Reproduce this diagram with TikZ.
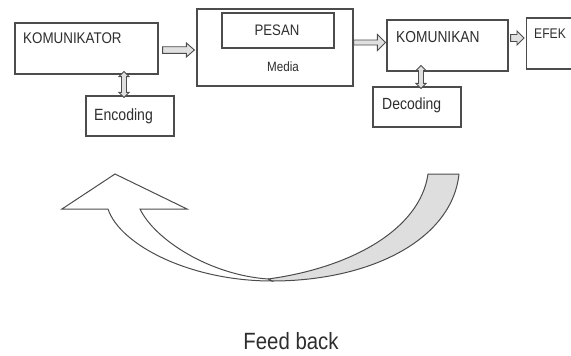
\documentclass[tikz,border=0pt]{standalone}
\usepackage{fontspec}
\setmainfont{Liberation Sans}
\usetikzlibrary{calc}
\tikzset{
  box/.style={draw=black!70, line width=1.2pt, fill=white, inner sep=0pt, minimum width=#1},
  lbl/.style={inner sep=0pt, text=black!82},
  barrow/.style={draw=black!70, line width=0.9pt, fill=black!12, line join=miter},
}
\newcommand\tall[1]{\scalebox{0.97}[1.12]{#1}}
\newcommand\harr[6][]{%
  \draw[barrow,#1] let \p1=(#2), \p2=(#3) in
  (\x1,\y1+#4) -- (\x2-#6,\y1+#4) -- (\x2-#6,\y1+#5) -- (\x2,\y1) -- (\x2-#6,\y1-#5)
  -- (\x2-#6,\y1-#4) -- (\x1,\y1-#4) -- cycle;}
\newcommand\varr[6][]{%
  \draw[barrow,#1] let \p1=(#2), \p2=(#3) in
  (\x1,\y1) -- (\x1+#5,\y1-#6) -- (\x1+#4,\y1-#6) -- (\x1+#4,\y2+#6) -- (\x1+#5,\y2+#6)
  -- (\x1,\y2) -- (\x1-#5,\y2+#6) -- (\x1-#4,\y2+#6) -- (\x1-#4,\y1-#6) -- (\x1-#5,\y1-#6) -- cycle;}
\begin{document}
\begin{tikzpicture}[x=1pt,y=-1pt]
\useasboundingbox (0,0) rectangle (571,356);
\clip (0,0) rectangle (571,356);
% boxes
\node[box=143pt, minimum height=51pt] (kom) at (86.5,48.5) {};
\node[box=88pt, minimum height=40pt] (enc) at (130,116) {};
\node[box=156pt, minimum height=77pt] (med) at (275,47.5) {};
\node[box=112pt, minimum height=35pt] (pes) at (278,30.5) {};
\node[box=121pt, minimum height=51pt] (kmn) at (447.5,45.5) {};
\node[box=88pt, minimum height=40pt] (dec) at (417,107) {};
\node[box=70pt, minimum height=51pt, anchor=west] (efk) at (526,43.5) {};
% texts
\node[lbl, anchor=base west, font=\fontsize{13.8}{16}\selectfont] (t1) at (23,43.5) {\tall{KOMUNIKATOR}};
\node[lbl, anchor=base west, font=\fontsize{14.5}{16}\selectfont] (t2) at (94,120) {\tall{Encoding}};
\node[lbl, anchor=base, font=\fontsize{13.6}{16}\selectfont] (t3) at (277,35) {\tall{PESAN}};
\node[lbl, anchor=base, font=\fontsize{12}{14}\selectfont] (t4) at (283,71) {\tall{Media}};
\node[lbl, anchor=base west, font=\fontsize{14.2}{16}\selectfont] (t5) at (396,42.5) {\tall{KOMUNIKAN}};
\node[lbl, anchor=base west, font=\fontsize{14.4}{16}\selectfont] (t6) at (382,109) {\tall{Decoding}};
\node[lbl, anchor=base west, font=\fontsize{12.5}{14}\selectfont] (t7) at (534,38.5) {\tall{EFEK}};
\node[lbl, anchor=base, font=\fontsize{21}{24}\selectfont] (t8) at (291,349) {\tall{Feed back}};
% arrow end points
\coordinate (a1s) at ([xshift=4pt,yshift=-1.5pt]kom.east);
\coordinate (a1e) at ([xshift=-2pt]med.west);
\coordinate (a2s) at ([yshift=5pt]med.east);
\coordinate (a2e) at ([xshift=-1pt]kmn.west);
\coordinate (a3s) at ([xshift=2pt,yshift=7.5pt]kmn.east);
\coordinate (a3e) at ([xshift=-2pt]efk.west);
\coordinate (v1t) at ([xshift=-6pt,yshift=3pt]enc.north |- kom.south);
\coordinate (v1b) at ([xshift=-6pt,yshift=-2pt]enc.north);
\coordinate (v2t) at ([xshift=4pt,yshift=6pt]dec.north |- kmn.south);
\coordinate (v2b) at ([xshift=4pt,yshift=-2pt]dec.north);
\harr{a1s}{a1e}{3.3pt}{7pt}{8pt}
\harr{a2s}{a2e}{2.5pt}{8pt}{8pt}
\harr{a3s}{a3e}{3.5pt}{7pt}{7pt}
\varr{v1t}{v1b}{2.5pt}{5pt}{5pt}
\varr{v2t}{v2b}{2.5pt}{5pt}{5pt}
% curved feedback arrow
\coordinate (tip) at (115,174);
\coordinate (hl) at (62,209);
\coordinate (hr) at (187,209);
\coordinate (so) at (108,209);
\coordinate (si) at (140,209);
\coordinate (mb) at (272,281);
\coordinate (mi) at (268,279);
\coordinate (eo) at (459,174);
\coordinate (ei) at (428,174);
\draw[draw=black!70, line width=1pt, fill=black!13, line join=round]
  (mb) .. controls (370,281) and (452,240) .. (eo) -- (ei)
  .. controls (420,230) and (350,268) .. (mi) -- cycle;
\draw[draw=black!70, line width=1pt, fill=white, line join=miter]
  (tip) -- (hr) -- (si) .. controls (155,240) and (210,275) .. (mi)
  -- (mb) .. controls (190,281) and (120,245) .. (so) -- (hl) -- cycle;
\end{tikzpicture}
\end{document}
